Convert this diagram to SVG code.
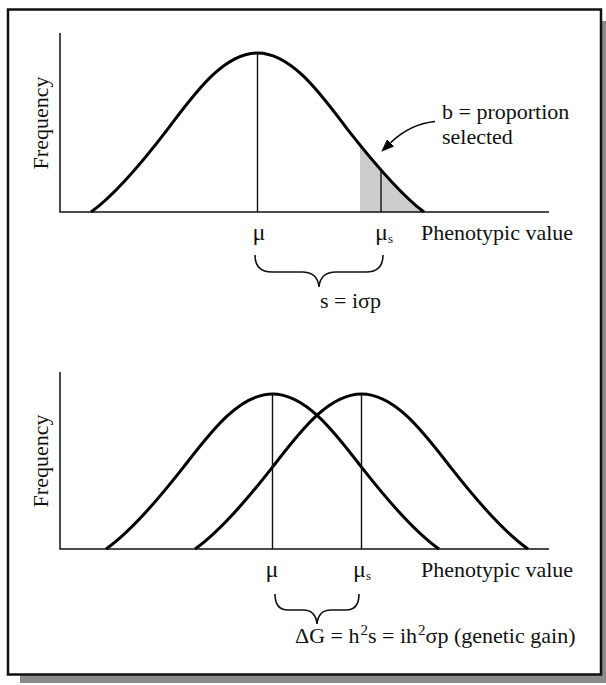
<svg xmlns="http://www.w3.org/2000/svg" width="606" height="685" viewBox="0 0 606 685">
  <style>
    text { font-family: "Liberation Serif", "Times New Roman", serif; font-size: 22px; fill: #111; }
    .axis { fill: none; stroke: #111; stroke-width: 1.5; }
    .bell { fill: none; stroke: #000; stroke-width: 3; stroke-linejoin: round; }
    .mean { fill: none; stroke: #111; stroke-width: 1.4; }
    .brace { fill: none; stroke: #111; stroke-width: 1.6; }
    .mu { font-size: 24px; }
    .sub { font-size: 13px; }
    .sup { font-size: 15px; }
  </style>
  <defs>
    <clipPath id="tailClip"><rect x="360" y="0" width="80" height="212"/></clipPath>
    <marker id="ah" viewBox="0 0 13 10" refX="0" refY="5" markerWidth="13" markerHeight="10" markerUnits="userSpaceOnUse" orient="auto">
      <path d="M0,0 L13,5 L0,10 z" fill="#000"/>
    </marker>
  </defs>

  <g id="frame">
    <rect x="20" y="21" width="592" height="662" fill="#8a8a8a"/>
    <rect x="8" y="9.5" width="593" height="665" fill="#fff" stroke="#111" stroke-width="2.5"/>
  </g>

  <g id="top-panel">
    <g id="top-shade">
      <path clip-path="url(#tailClip)" fill="#cccccc" d="M91,212 C116,194 142.5,162 167.5,129.3 C192.5,96.6 222.5,53 257.5,53 C292.5,53 322.5,96.6 347.5,129.3 C370,158 400,194 424,212 Z"/>
    </g>
    <g id="top-axes">
      <path class="axis" d="M60,33 L60,212 L549,212"/>
    </g>
    <g id="top-curve">
      <path class="bell" d="M91,212 C116,194 142.5,162 167.5,129.3 C192.5,96.6 222.5,53 257.5,53 C292.5,53 322.5,96.6 347.5,129.3 C370,158 400,194 424,212"/>
    </g>
    <g id="top-means">
      <line class="mean" x1="257.5" y1="53" x2="257.5" y2="212"/>
      <line class="mean" x1="381" y1="171.5" x2="381" y2="212"/>
    </g>
    <g id="top-labels">
      <text transform="translate(48,123) rotate(-90)" text-anchor="middle">Frequency</text>
      <text class="mu" x="259" y="240" text-anchor="middle">μ</text>
      <text class="mu" x="375" y="240">μ<tspan class="sub" dy="3">s</tspan></text>
      <text x="421" y="240">Phenotypic value</text>
      <text x="442" y="119">b = proportion</text>
      <text x="442" y="144">selected</text>
      <text x="320" y="308">s = iσp</text>
    </g>
    <g id="top-brace">
      <path class="brace" d="M255,255 C255,266 260,272 272,272 L302,272 C312,272 318,276 319,287 C320,276 326,272 336,272 L366,272 C378,272 383,266 383,255"/>
    </g>
  </g>

  <g id="bottom-panel">
    <g id="bottom-axes">
      <path class="axis" d="M60,372 L60,549 L549,549"/>
    </g>
    <g id="bottom-curve-left">
      <path class="bell" d="M106,549 C131,531.5 157.5,500.3 182.5,468.4 C207.5,436.5 237.5,394 272.5,394 C307.5,394 337.5,436.5 362.5,468.4 C387.5,500.3 414,531.5 439,549"/>
    </g>
    <g id="bottom-curve-right">
      <path class="bell" d="M195,549 C220,531.5 246.5,500.3 271.5,468.4 C296.5,436.5 326.5,394 361.5,394 C396.5,394 426.5,436.5 451.5,468.4 C476.5,500.3 503,531.5 528,549"/>
    </g>
    <g id="bottom-means">
      <line class="mean" x1="272.5" y1="394" x2="272.5" y2="549"/>
      <line class="mean" x1="361.5" y1="394" x2="361.5" y2="549"/>
    </g>
    <g id="bottom-labels">
      <text transform="translate(48,461) rotate(-90)" text-anchor="middle">Frequency</text>
      <text class="mu" x="272" y="577" text-anchor="middle">μ</text>
      <text class="mu" x="353" y="577">μ<tspan class="sub" dy="3">s</tspan></text>
      <text x="421" y="577">Phenotypic value</text>
      <text x="295" y="643">ΔG = h<tspan class="sup" dx="1" dy="-8">2</tspan><tspan dy="8">s = ih</tspan><tspan class="sup" dx="1" dy="-8">2</tspan><tspan dy="8">σp (genetic gain)</tspan></text>
    </g>
    <g id="bottom-brace">
      <path class="brace" d="M275,594 C275,604 279,610 288,610 L303,610 C311,610 316,614 317,624 C318,614 323,610 331,610 L346,610 C355,610 359,604 359,594"/>
    </g>
  </g>

  <g id="connectors">
    <path d="M435,121.5 Q410,124 390.6,142.75" fill="none" stroke="#000" stroke-width="1.6" marker-end="url(#ah)"/>
  </g>
</svg>
